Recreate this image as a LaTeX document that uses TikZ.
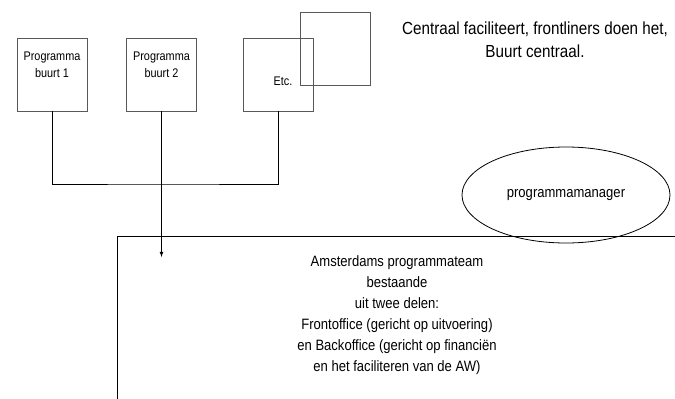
\documentclass[tikz,border=0pt]{standalone}
\usepackage{fontspec}
\setmainfont{Liberation Sans}[FakeStretch=0.87]
\usetikzlibrary{shapes.geometric, arrows, positioning}
\tikzstyle{buurt} = [rectangle, draw=black!65, minimum width=70pt, minimum height=73pt, inner sep=0pt]
\tikzstyle{arrow} = [->,>=latex]

\begin{document}
\begin{tikzpicture}[
    x=1pt, y=-1pt,
    line width=0.8pt,
    every node/.style={align=center, font=\fontsize{15}{21}\selectfont},
    klein/.style={font=\fontsize{12.5}{17}\selectfont},
    groot/.style={font=\fontsize{17.5}{22.5}\selectfont}
]
\useasboundingbox (0,0) rectangle (675,399);

% Nodes
\node[buurt] (buurt1) at (52,74.5) {};
\node[buurt] (buurt2) at (161.5,74.5) {};
\node[buurt] (buurt3) at (278,74.5) {};
\node[buurt, anchor=north west] (vak) at (300,12) {};
\node[klein, below=11pt of buurt1.north] (tekst1) {Programma\\buurt 1};
\node[klein, below=11pt of buurt2.north] (tekst2) {Programma\\buurt 2};
\node[klein] (tekst3) at (283,81) {Etc.};
\node[groot] (motto) at (535,39.5) {Centraal faciliteert, frontliners doen het,\\Buurt centraal.};
\node[ellipse, draw, minimum width=208pt, minimum height=96pt] (manager) at (566,195) {programmamanager};
\node[draw, anchor=north west, minimum width=570pt, minimum height=180pt] (team) at (117,236) {};
\node (teamtekst) at (397,315.5) {Amsterdams programmateam\\bestaande\\uit twee delen:\\Frontoffice (gericht op uitvoering)\\en Backoffice (gericht op financiën\\en het faciliteren van de AW)};
\coordinate (bus) at (161.5,184);
\coordinate (pijl) at (161.5,257);

% Arrows
\draw (buurt1.south) |- (bus) -| (buurt3.south);
\draw (buurt2.south) -- (bus);
\draw [arrow] (bus) -- (pijl);

\end{tikzpicture}
\end{document}
